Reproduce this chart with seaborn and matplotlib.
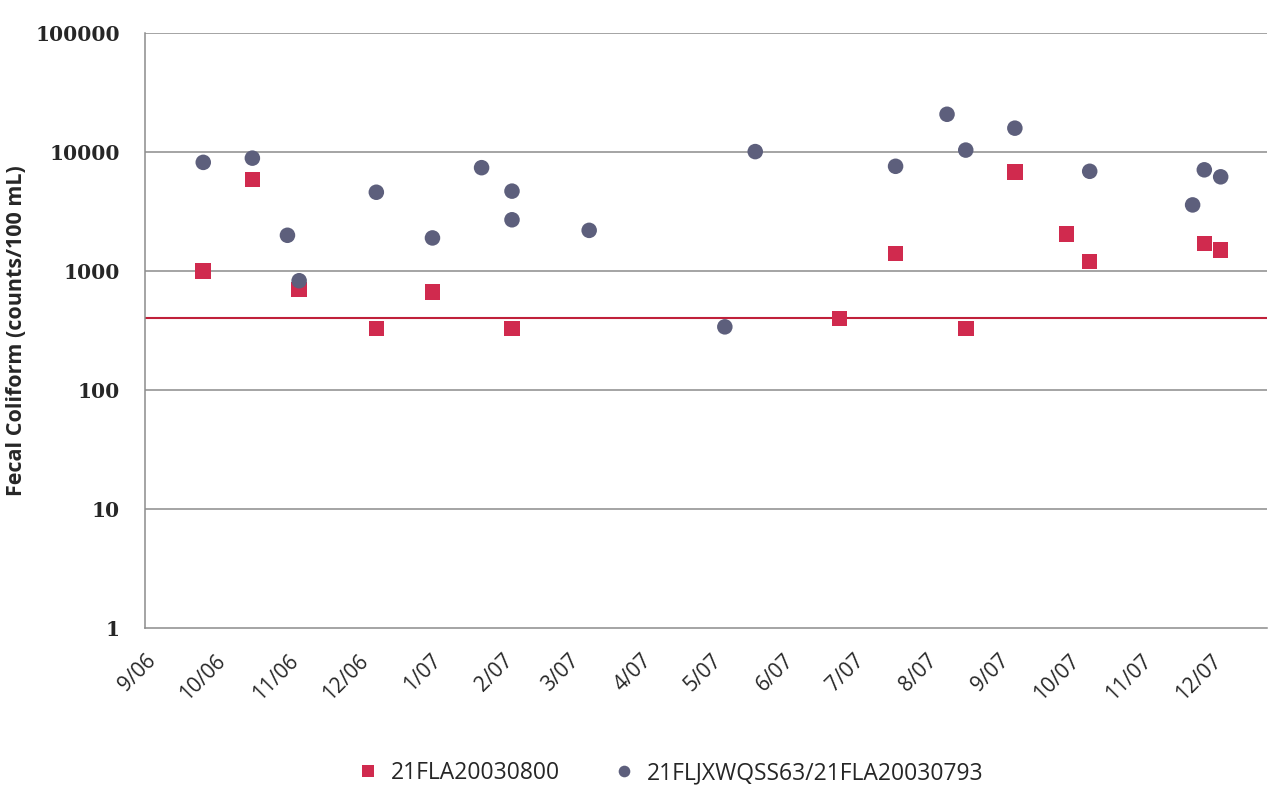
import pandas as pd
import numpy as np
import matplotlib
matplotlib.use("Agg")
import matplotlib.pyplot as plt
import matplotlib.dates as mdates
import seaborn as sns

# Site names (legend labels)
site_a = "21FLA20030800"
site_b = "21FLJXWQSS63/21FLA20030793"

# Fecal coliform samples, site A (red squares)
dates_a = ["2006-09-26", "2006-10-17", "2006-11-06", "2006-12-09", "2007-01-02",
           "2007-02-05", "2007-06-25", "2007-07-19", "2007-08-18", "2007-09-08",
           "2007-09-30", "2007-10-10", "2007-11-28", "2007-12-05"]
counts_a = [1000, 5900, 700, 330, 670, 330, 400, 1400, 330, 6800, 2050, 1200, 1700, 1500]

# Site B (grey circles)
dates_b = ["2006-09-26", "2006-10-17", "2006-11-01", "2006-11-06", "2006-12-09",
           "2007-01-02", "2007-01-23", "2007-02-05", "2007-02-05", "2007-03-10",
           "2007-05-07", "2007-05-20", "2007-07-19", "2007-08-10", "2007-08-18",
           "2007-09-08", "2007-10-10", "2007-11-23", "2007-11-28", "2007-12-05"]
counts_b = [8200, 8900, 2000, 830, 4600, 1900, 7400, 4700, 2700, 2200,
            340, 10100, 7600, 20800, 10400, 15900, 6900, 3600, 7100, 6200]

# Standard / criterion line
criterion = 400

y_ticks = [1, 10, 100, 1000, 10000, 100000]


def build_frame():
    a = pd.DataFrame({"date": pd.to_datetime(dates_a), "count": counts_a, "site": site_a})
    b = pd.DataFrame({"date": pd.to_datetime(dates_b), "count": counts_b, "site": site_b})
    return pd.concat([a, b], ignore_index=True)


def make_plot(df):
    sns.set_style("white")
    plt.rcParams["font.family"] = ["Open Sans", "DejaVu Sans"]

    fig = plt.figure(figsize=(12.7, 7.89), dpi=100)
    ax = fig.add_axes([0.114, 0.204, 0.884, 0.754])

    # gridlines first so markers sit on top
    for v in y_ticks[1:]:
        ax.axhline(v, color="#8c8c8c", lw=1.1, zorder=1)
    ax.axhline(criterion, color="#c0203a", lw=1.5, zorder=1)

    sns.scatterplot(data=df, x="date", y="count", hue="site", style="site",
                    hue_order=[site_a, site_b], style_order=[site_a, site_b],
                    palette={site_a: "#d02a4e", site_b: "#5d5f7c"},
                    markers={site_a: "s", site_b: "o"},
                    s=125, edgecolor="none", linewidth=0, zorder=3, ax=ax)

    ax.set_yscale("log")
    ax.set_ylim(1, 100000)
    ax.set_yticks(y_ticks)
    ax.set_yticklabels([str(v) for v in y_ticks])
    ax.yaxis.set_minor_locator(plt.NullLocator())
    for lab in ax.get_yticklabels():
        lab.set_fontfamily("DejaVu Serif")
        lab.set_fontweight("bold")
        lab.set_fontsize(14.5)

    ax.set_xlim(pd.Timestamp("2006-09-01"), pd.Timestamp("2007-12-25"))
    ax.xaxis.set_major_locator(mdates.MonthLocator())
    ax.xaxis.set_major_formatter(mdates.DateFormatter("%-m/%y"))
    plt.setp(ax.get_xticklabels(), rotation=45, ha="right",
             rotation_mode="anchor", fontsize=15)

    ax.tick_params(axis="y", direction="out", length=8, width=1, color="#8c8c8c", pad=10)
    ax.tick_params(axis="x", direction="out", length=12, width=1, color="#8c8c8c", pad=4)

    for side in ["top", "right"]:
        ax.spines[side].set_visible(False)
    for side in ["left", "bottom"]:
        ax.spines[side].set_color("#8c8c8c")
        ax.spines[side].set_linewidth(1.1)

    ax.set_xlabel("")
    ax.set_ylabel("Fecal Coliform (counts/100 mL)", fontsize=15.5, fontweight="bold", labelpad=6)

    handles, labels = ax.get_legend_handles_labels()
    ax.get_legend().remove()
    fig.legend(handles, labels, loc="center", bbox_to_anchor=(0.523, 0.02),
               ncol=2, frameon=False, fontsize=16.5, handletextpad=0.0,
               columnspacing=1.8, markerscale=0.75)

    fig.savefig("out.png", dpi=100)


if __name__ == "__main__":
    df = build_frame()
    make_plot(df)
